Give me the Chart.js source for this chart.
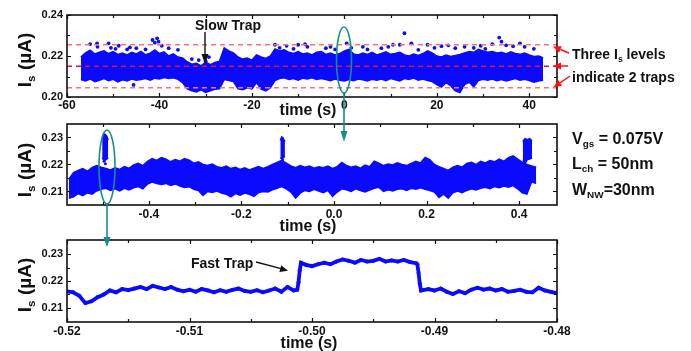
<!DOCTYPE html>
<html><head><meta charset="utf-8">
<script src="https://cdn.jsdelivr.net/npm/chart.js@4/dist/chart.umd.min.js"></script>
<style>
html,body{margin:0;padding:0;background:#fff;}
#wrap{position:relative;width:691px;height:351px;overflow:hidden;font-family:"Liberation Sans",Arial,sans-serif;font-weight:bold;color:#111;}
canvas{position:absolute;left:0;}
.t{position:absolute;white-space:nowrap;line-height:1;}
.t sub{font-size:0.62em;vertical-align:-0.35em;line-height:0;}
.c{transform:translateX(-50%);}
.r{transform:translate(-50%,-50%) rotate(-90deg);}
svg{position:absolute;left:0;top:0;}
</style></head><body>
<div id="wrap">
<canvas id="c1" width="691" height="112" style="top:0px"></canvas>
<canvas id="c2" width="691" height="110" style="top:110px"></canvas>
<canvas id="c3" width="691" height="115" style="top:225px"></canvas>

<div class="t r" style="left:24px;top:60px;font-size:19px">I<sub>s</sub> (µA)</div>
<div class="t r" style="left:24px;top:170px;font-size:19px">I<sub>s</sub> (µA)</div>
<div class="t r" style="left:24px;top:285px;font-size:19px">I<sub>s</sub> (µA)</div>
<div class="t c" style="left:308px;top:102px;font-size:16px">time (s)</div>
<div class="t c" style="left:308px;top:218px;font-size:16px">time (s)</div>
<div class="t c" style="left:309px;top:335px;font-size:16px">time (s)</div>

<div class="t" style="left:195px;top:18px;font-size:14px">Slow Trap</div>
<div class="t" style="left:572px;top:47px;font-size:14px">Three I<sub>s</sub> levels</div>
<div class="t" style="left:572px;top:70px;font-size:14px">indicate 2 traps</div>
<div class="t" style="left:572px;top:131px;font-size:16px">V<sub>gs</sub> = 0.075V</div>
<div class="t" style="left:572px;top:156px;font-size:16px">L<sub>ch</sub> = 50nm</div>
<div class="t" style="left:572px;top:182px;font-size:16px">W<sub>NW</sub>=30nm</div>
<div class="t" style="left:191px;top:256px;font-size:14px">Fast Trap</div>

<svg width="691" height="351" viewBox="0 0 691 351">
  <g stroke="#178c8c" stroke-width="1.6" fill="none">
    <ellipse cx="344" cy="60" rx="7.5" ry="33"/>
    <line x1="344" y1="93" x2="344" y2="134"/>
    <ellipse cx="107" cy="167" rx="8" ry="37"/>
    <line x1="107" y1="204" x2="107" y2="239"/>
  </g>
  <g fill="#178c8c">
    <polygon points="340.5,131 347.5,131 344,142"/>
    <polygon points="103.5,237 110.5,237 107,247"/>
  </g>
  <g stroke="#111" stroke-width="1.4" fill="none">
    <line x1="205" y1="32" x2="205" y2="55"/>
    <line x1="256" y1="262" x2="281" y2="268.6"/>
  </g>
  <g fill="#111">
    <polygon points="201.5,54 208.5,54 205,64"/>
    <polygon points="279.4,272 281.2,265.2 288,270.7"/>
  </g>
  <g stroke="#ff1010" stroke-width="1.5" fill="none">
    <line x1="569" y1="53" x2="560.4" y2="49.5"/>
    <line x1="568" y1="66" x2="561" y2="66"/>
    <line x1="570" y1="76" x2="560.1" y2="82.8"/>
  </g>
  <g fill="#ff1010">
    <polygon points="561.7,46.3 559.1,52.7 553,46.5"/>
    <polygon points="561,62.5 561,69.5 553,66"/>
    <polygon points="562.1,85.7 558.1,79.9 553.5,87.3"/>
  </g>
</svg>
</div>
<script>
// ---------- Panel 1 (long record) ----------
const t1 = [-57,-56,-55,-54,-53,-52,-51,-50,-49,-48,-47,-46,-45,-44,-43,-42,-41,-40,-39,-38,-37,-36,-35,-34,-33,-32,-31,-30,-29,-28,-27,-26,-25,-24,-23,-22,-21,-20,-19,-18,-17,-16,-15,-14,-13,-12,-11,-10,-9,-8,-7,-6,-5,-4,-3,-2,-1,0,1,2,3,4,5,6,7,8,9,10,11,12,13,14,15,16,17,18,19,20,21,22,23,24,25,26,27,28,29,30,31,32,33,34,35,36,37,38,39,40,41,42,43];
const hi1 = [0.2195,0.2215,0.2228,0.2210,0.2218,0.2225,0.2212,0.2222,0.2208,0.2215,
0.2205,0.2218,0.2210,0.2222,0.2206,0.2214,0.2230,0.2212,0.2220,0.2200,
0.2210,0.2195,0.2190,0.2172,0.2160,0.2165,0.2152,0.2170,0.2158,0.2168,
0.2175,0.2240,0.2225,0.2215,0.2195,0.2185,0.2190,0.2180,0.2205,0.2195,
0.2188,0.2200,0.2235,0.2225,0.2230,0.2218,0.2212,0.2222,0.2210,0.2215,
0.2205,0.2218,0.2222,0.2208,0.2215,0.2205,0.2212,0.2225,0.2232,0.2210,
0.2205,0.2215,0.2208,0.2218,0.2205,0.2212,0.2220,0.2208,0.2212,0.2218,
0.2205,0.2200,0.2210,0.2203,0.2212,0.2225,0.2215,0.2200,0.2195,0.2205,
0.2198,0.2202,0.2208,0.2215,0.2222,0.2218,0.2232,0.2225,0.2218,0.2222,
0.2215,0.2218,0.2210,0.2220,0.2212,0.2208,0.2215,0.2205,0.2198,0.2200,0.2192];
const lo1 = [0.2085,0.2078,0.2088,0.2075,0.2082,0.2090,0.2080,0.2086,0.2074,0.2084,
0.2078,0.2088,0.2082,0.2085,0.2090,0.2082,0.2092,0.2088,0.2095,0.2090,
0.2094,0.2086,0.2070,0.2040,0.2030,0.2025,0.2035,0.2022,0.2030,0.2038,
0.2040,0.2085,0.2080,0.2075,0.2040,0.2035,0.2045,0.2040,0.2070,0.2038,
0.2030,0.2045,0.2080,0.2090,0.2094,0.2085,0.2090,0.2082,0.2092,0.2088,
0.2094,0.2086,0.2090,0.2085,0.2080,0.2088,0.2082,0.2078,0.2085,0.2080,
0.2088,0.2084,0.2078,0.2086,0.2082,0.2088,0.2080,0.2090,0.2084,0.2078,
0.2090,0.2086,0.2092,0.2082,0.2088,0.2080,0.2075,0.2060,0.2048,0.2070,
0.2055,0.2030,0.2022,0.2060,0.2072,0.2050,0.2080,0.2086,0.2082,0.2088,
0.2080,0.2085,0.2078,0.2084,0.2090,0.2082,0.2086,0.2080,0.2072,0.2078,0.2082];
const ox1 = [-55,-53.5,-53.4,-51,-50.5,-49.5,-48.8,-47,-46.4,-45.6,-45,-43,-41.5,-41,-40.5,-40.2,-39.5,-38,-36,-33,-31.5,-30,-29.3,-15,-14,-12.5,-11,-10,-8.5,-8,-4,-3,-2,0.5,1.5,4,5,8,9.5,10.5,12,13,14.5,16,18,19.5,21,22.5,24,26,28,29.5,30.5,32,33.5,34,35,36.5,38,39,41];
const oy1 = [0.2258,0.2262,0.2245,0.2262,0.2240,0.2235,0.2250,0.2232,0.2242,0.2059,0.2238,0.2232,0.2278,0.2265,0.2286,0.2270,0.2250,0.2238,0.2230,0.2185,0.2180,0.2175,0.2195,0.2255,0.2240,0.2250,0.2235,0.2255,0.2258,0.2245,0.2238,0.2245,0.2232,0.2262,0.2240,0.2245,0.2232,0.2238,0.2245,0.2255,0.2255,0.2311,0.2262,0.2230,0.2255,0.2240,0.2248,0.2252,0.2238,0.2245,0.2240,0.2250,0.2235,0.2258,0.2290,0.2270,0.2252,0.2248,0.2262,0.2245,0.2235];
const levels = [0.2255, 0.2150, 0.2045];
const levelSpan = [-60, 46];
const x1Major = [-60,-40,-20,0,20,40], x1Minor = [-50,-30,-10,10,30];
const y1Major = [0.20,0.22,0.24], y1Minor = [0.21,0.23];

// ---------- Panel 2 (zoom 1 s) ----------
const t2 = [-0.573,-0.563,-0.553,-0.543,-0.533,-0.523,-0.513,-0.503,-0.493,-0.483,
-0.473,-0.463,-0.453,-0.443,-0.433,-0.423,-0.413,-0.403,-0.393,-0.383,
-0.373,-0.363,-0.353,-0.343,-0.333,-0.323,-0.313,-0.303,-0.293,-0.283,
-0.273,-0.263,-0.253,-0.243,-0.233,-0.223,-0.213,-0.203,-0.193,-0.183,
-0.173,-0.163,-0.153,-0.143,-0.133,-0.123,-0.113,-0.103,-0.093,-0.083,
-0.073,-0.063,-0.053,-0.043,-0.033,-0.023,-0.013,-0.003,0.007,0.017,
0.027,0.037,0.047,0.057,0.067,0.077,0.087,0.097,0.107,0.117,
0.127,0.137,0.147,0.157,0.167,0.177,0.187,0.197,0.207,0.217,
0.227,0.237,0.247,0.257,0.267,0.277,0.287,0.297,0.307,0.317,
0.327,0.337,0.347,0.357,0.367,0.377,0.387,0.397,0.407,0.417,0.427,0.437];
const hi2 = [0.2145,0.2170,0.2178,0.2185,0.2175,0.2188,0.2196,0.2190,0.2185,0.2180,
0.2188,0.2182,0.2192,0.2186,0.2198,0.2204,0.2196,0.2212,0.2222,0.2215,
0.2226,0.2220,0.2210,0.2218,0.2212,0.2222,0.2216,0.2205,0.2210,0.2200,
0.2196,0.2202,0.2192,0.2188,0.2194,0.2185,0.2190,0.2182,0.2188,0.2180,
0.2186,0.2192,0.2185,0.2192,0.2200,0.2208,0.2215,0.2205,0.2195,0.2188,
0.2196,0.2190,0.2194,0.2186,0.2192,0.2188,0.2194,0.2185,0.2192,0.2208,
0.2196,0.2190,0.2194,0.2186,0.2198,0.2192,0.2212,0.2205,0.2196,0.2202,
0.2198,0.2206,0.2200,0.2196,0.2204,0.2212,0.2206,0.2226,0.2218,0.2200,
0.2192,0.2185,0.2178,0.2190,0.2196,0.2190,0.2204,0.2208,0.2200,0.2212,
0.2206,0.2215,0.2210,0.2220,0.2212,0.2225,0.2232,0.2220,0.2208,0.2200,0.2195,0.2190];
const lo2 = [0.2075,0.2080,0.2092,0.2085,0.2095,0.2090,0.2102,0.2108,0.2112,0.2104,
0.2110,0.2102,0.2112,0.2106,0.2114,0.2118,0.2110,0.2128,0.2135,0.2130,
0.2126,0.2130,0.2122,0.2128,0.2120,0.2115,0.2118,0.2108,0.2104,0.2085,
0.2100,0.2096,0.2102,0.2094,0.2090,0.2080,0.2092,0.2086,0.2094,0.2090,
0.2082,0.2096,0.2100,0.2098,0.2106,0.2112,0.2118,0.2110,0.2098,0.2076,
0.2094,0.2104,0.2100,0.2108,0.2102,0.2096,0.2104,0.2082,0.2098,0.2110,
0.2106,0.2100,0.2110,0.2104,0.2098,0.2105,0.2112,0.2116,0.2100,0.2106,
0.2102,0.2108,0.2110,0.2104,0.2112,0.2108,0.2114,0.2108,0.2104,0.2098,
0.2078,0.2090,0.2075,0.2095,0.2102,0.2096,0.2104,0.2110,0.2106,0.2112,
0.2116,0.2110,0.2118,0.2114,0.2120,0.2116,0.2122,0.2110,0.2095,0.2090,0.2135,0.2130];
const sAx = [-0.501,-0.498,-0.495,-0.491,-0.488], sAhi = [0.2295,0.2315,0.2312,0.2305,0.2290], sAlo = [0.2225,0.2218,0.2215,0.2220,0.2225];
const sBx = [-0.116,-0.113,-0.110,-0.106], sBhi = [0.2290,0.2302,0.2298,0.2285], sBlo = [0.2225,0.2222,0.2225,0.2230];
const sCx = [0.408,0.413,0.418,0.423,0.428], sChi = [0.2285,0.2296,0.2292,0.2296,0.2288], sClo = [0.2215,0.2205,0.2218,0.2220,0.2225];
const ox2 = [-0.497,-0.494,-0.111], oy2 = [0.2212,0.2203,0.2218];
const x2Major = [-0.4,-0.2,0,0.2,0.4], x2Minor = [-0.5,-0.3,-0.1,0.1,0.3];
const y2Major = [0.21,0.22,0.23], y2Minor = [0.215,0.225];

// ---------- Panel 3 (zoom 40 ms) ----------
const t3 = [-0.5200,-0.5195,-0.5190,-0.5185,-0.5180,-0.5175,-0.5170,-0.5165,-0.5160,-0.5155,
-0.5150,-0.5145,-0.5140,-0.5135,-0.5130,-0.5125,-0.5120,-0.5115,-0.5110,-0.5105,
-0.5100,-0.5095,-0.5090,-0.5085,-0.5080,-0.5075,-0.5070,-0.5065,-0.5060,-0.5055,
-0.5050,-0.5045,-0.5040,-0.5035,-0.5030,-0.5025,-0.5020,-0.5015,-0.5012,
-0.5011,-0.5010,-0.5009,
-0.5005,-0.5000,-0.4995,-0.4990,-0.4985,-0.4980,-0.4975,-0.4970,-0.4965,-0.4960,
-0.4955,-0.4950,-0.4945,-0.4940,-0.4935,-0.4930,-0.4925,-0.4920,-0.4915,
-0.4914,-0.4913,-0.4912,-0.4911,
-0.4905,-0.4900,-0.4895,-0.4890,-0.4885,-0.4880,-0.4875,-0.4870,-0.4865,-0.4860,
-0.4855,-0.4850,-0.4845,-0.4840,-0.4835,-0.4830,-0.4825,-0.4820,-0.4815,-0.4810,-0.4805,-0.4800];
const v3 = [0.2162,0.2158,0.2145,0.2118,0.2125,0.2140,0.2150,0.2165,0.2158,0.2170,
0.2166,0.2172,0.2178,0.2170,0.2182,0.2176,0.2170,0.2178,0.2168,0.2162,
0.2168,0.2160,0.2170,0.2165,0.2158,0.2166,0.2160,0.2167,0.2172,0.2163,
0.2160,0.2166,0.2158,0.2165,0.2172,0.2160,0.2178,0.2165,0.2168,
0.2195,0.2240,0.2268,
0.2260,0.2255,0.2262,0.2268,0.2262,0.2272,0.2280,0.2275,0.2268,0.2278,
0.2272,0.2275,0.2282,0.2272,0.2276,0.2272,0.2278,0.2270,0.2266,
0.2262,0.2230,0.2190,0.2165,
0.2170,0.2165,0.2172,0.2160,0.2152,0.2162,0.2155,0.2168,0.2175,0.2168,
0.2172,0.2165,0.2170,0.2160,0.2163,0.2168,0.2160,0.2158,0.2175,0.2165,0.2160,0.2155];
const x3Major = [-0.52,-0.51,-0.50,-0.49,-0.48], x3Minor = [-0.515,-0.505,-0.495,-0.485];
const y3Major = [0.21,0.22,0.23], y3Minor = [0.215,0.225];

// ---------- rendering ----------
const BLUE = '#0a0aff';
const FONT = "'Liberation Sans', Arial, sans-serif";
const pts = (xs, ys) => xs.map((x, i) => ({x, y: ys[i]}));

const framePlugin = {
  id: 'frame',
  afterDatasetsDraw(chart, args, o) {
    const {ctx, chartArea: a, scales: {x, y}} = chart;
    ctx.save();
    ctx.strokeStyle = '#111';
    ctx.lineWidth = 1.2;
    ctx.beginPath();
    const xt = (vals, len) => vals.forEach(v => {
      const p = Math.round(x.getPixelForValue(v)) + 0.5;
      ctx.moveTo(p, a.bottom); ctx.lineTo(p, a.bottom - len);
      ctx.moveTo(p, a.top); ctx.lineTo(p, a.top + len);
    });
    const yt = (vals, len) => vals.forEach(v => {
      const p = Math.round(y.getPixelForValue(v)) + 0.5;
      ctx.moveTo(a.left, p); ctx.lineTo(a.left + len, p);
      ctx.moveTo(a.right, p); ctx.lineTo(a.right - len, p);
    });
    xt(o.xMajor, 4); xt(o.xMinor, 3); yt(o.yMajor, 4); yt(o.yMinor, 3);
    ctx.stroke();
    ctx.lineWidth = 1.6;
    ctx.strokeRect(a.left, a.top, a.right - a.left, a.bottom - a.top);
    ctx.restore();
  }
};

function makeChart(id, cfg) {
  return new Chart(document.getElementById(id), {
    type: 'line',
    data: {datasets: cfg.datasets},
    plugins: [framePlugin],
    options: {
      responsive: false, animation: false, events: [],
      layout: {padding: {left: 0, right: 134, top: cfg.top, bottom: 0}},
      elements: {line: {tension: 0}},
      plugins: {legend: {display: false}, tooltip: {enabled: false},
        frame: {xMajor: cfg.xMajor, xMinor: cfg.xMinor, yMajor: cfg.yMajor, yMinor: cfg.yMinor}},
      scales: {
        x: {type: 'linear', min: cfg.xmin, max: cfg.xmax,
          grid: {display: false, drawTicks: false}, border: {display: false},
          ticks: {font: {family: FONT, size: 12, weight: 'bold'}, color: '#111', padding: cfg.xpad,
                  maxRotation: 0, autoSkip: false, callback: v => cfg.xfmt(v)},
          afterBuildTicks: s => { s.ticks = cfg.xMajor.map(v => ({value: v})); },
          afterFit: s => { s.height = cfg.xh; }},
        y: {type: 'linear', min: cfg.ymin, max: cfg.ymax,
          grid: {display: false, drawTicks: false}, border: {display: false},
          ticks: {font: {family: FONT, size: 11, weight: 'bold'}, color: '#111', padding: 4,
                  autoSkip: false, callback: v => v.toFixed(2)},
          afterBuildTicks: s => { s.ticks = cfg.yMajor.map(v => ({value: v})); },
          afterFit: s => { s.width = 67; }}
      }
    }
  });
}

const band = (xs, lo, hi) => [
  {data: pts(xs, lo), borderColor: BLUE, borderWidth: 1.5, pointRadius: 0, fill: false},
  {data: pts(xs, hi), borderColor: BLUE, borderWidth: 1.5, pointRadius: 0, fill: '-1', backgroundColor: BLUE}
];
const dots = (xs, ys, r) => ({data: pts(xs, ys), showLine: false, pointRadius: r, pointBackgroundColor: BLUE, pointBorderWidth: 0});
const level = (v, c) => ({data: pts(levelSpan, [v, v]), borderColor: c, borderDash: [5, 4], borderWidth: 1.5, pointRadius: 0, fill: false});

makeChart('c1', {
  top: 15, xh: 15, xpad: 1, xmin: -60, xmax: 46, ymin: 0.20, ymax: 0.24,
  xMajor: x1Major, xMinor: x1Minor, yMajor: y1Major, yMinor: y1Minor,
  xfmt: v => String(Math.round(v)),
  datasets: [level(levels[0], '#ff7070'), level(levels[1], '#e8141c'), level(levels[2], '#ff7070'),
             dots(ox1, oy1, 1.9), ...band(t1, lo1, hi1)]
});

makeChart('c2', {
  top: 14, xh: 15, xpad: 2, xmin: -0.577, xmax: 0.482, ymin: 0.205, ymax: 0.235,
  xMajor: x2Major, xMinor: x2Minor, yMajor: y2Major, yMinor: y2Minor,
  xfmt: v => v.toFixed(1),
  datasets: [dots(ox2, oy2, 1.5), ...band(sAx, sAlo, sAhi), ...band(sBx, sBlo, sBhi), ...band(sCx, sClo, sChi),
             ...band(t2, lo2, hi2)]
});

makeChart('c3', {
  top: 15, xh: 18, xpad: 2, xmin: -0.52, xmax: -0.48, ymin: 0.2048, ymax: 0.2352,
  xMajor: x3Major, xMinor: x3Minor, yMajor: y3Major, yMinor: y3Minor,
  xfmt: v => v.toFixed(2),
  datasets: [{data: pts(t3, v3), borderColor: BLUE, borderWidth: 3.8, pointRadius: 2,
              pointBackgroundColor: BLUE, pointBorderWidth: 0, fill: false}]
});
</script>
</body></html>
